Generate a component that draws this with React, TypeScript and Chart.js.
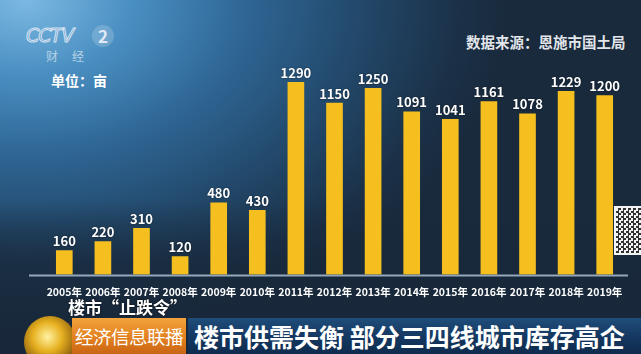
import React, { useEffect, useRef } from "react";
import { Chart, registerables } from "chart.js";

Chart.register(...registerables);

const years = ["2005年", "2006年", "2007年", "2008年", "2009年", "2010年", "2011年", "2012年", "2013年", "2014年", "2015年", "2016年", "2017年", "2018年", "2019年"];
const values = [160, 220, 310, 120, 480, 430, 1290, 1150, 1250, 1091, 1041, 1161, 1078, 1229, 1200];

const FONT = '"Noto Sans CJK SC", "Noto Sans", sans-serif';

const valueLabelPlugin = {
  id: "valueLabels",
  afterDatasetsDraw(chart: any) {
    const ctx = chart.ctx;
    const meta = chart.getDatasetMeta(0);
    ctx.save();
    ctx.font = "bold 13px " + FONT;
    ctx.fillStyle = "#ffffff";
    ctx.textAlign = "center";
    ctx.textBaseline = "bottom";
    ctx.shadowColor = "rgba(0,0,0,0.5)";
    ctx.shadowBlur = 2;
    meta.data.forEach((bar: any, i: number) => {
      ctx.fillText(String(chart.data.datasets[0].data[i]), bar.x, bar.y - 3);
    });
    ctx.restore();
  },
  beforeDatasetsDraw(chart: any) {
    const ctx = chart.ctx;
    const a = chart.chartArea;
    ctx.save();
    ctx.strokeStyle = "rgba(170,190,210,0.85)";
    ctx.lineWidth = 2;
    ctx.beginPath();
    ctx.moveTo(a.left - 16, a.bottom + 1);
    ctx.lineTo(a.right + 4, a.bottom + 1);
    ctx.stroke();
    ctx.restore();
  },
};

export default function App() {
  const ref = useRef<HTMLCanvasElement>(null);
  useEffect(() => {
    if (!ref.current) return;
    const chart = new Chart(ref.current, {
      type: "bar",
      data: {
        labels: years,
        datasets: [
          {
            data: values,
            backgroundColor: "#F5C01F",
            barThickness: 16,
          },
        ],
      },
      options: {
        animation: false,
        responsive: false,
        maintainAspectRatio: false,
        layout: { padding: { left: 45, right: 17, top: 51, bottom: 0 } },
        plugins: { legend: { display: false }, tooltip: { enabled: false } },
        scales: {
          x: {
            grid: { display: false },
            border: { display: false },
            ticks: {
              color: "#ffffff",
              font: { family: FONT, size: 10.5, weight: "bold" },
              padding: 3,
              maxRotation: 0,
              autoSkip: false,
            },
          },
          y: { display: false, min: 0, max: 1500 },
        },
      },
      plugins: [valueLabelPlugin],
    });
    return () => chart.destroy();
  }, []);

  return (
    <div
      style={{
        position: "absolute",
        left: 0,
        top: 0,
        width: 641,
        height: 354,
        overflow: "hidden",
        fontFamily: FONT,
        background:
          "radial-gradient(ellipse 75% 95% at 4% 0%, #7cb9e2 0%, #4a8fc2 22%, #2f6796 45%, #234a6d 68%, #1b3148 90%, #192a3d 100%)",
      }}
    >
      <div style={{ position: "absolute", left: 0, top: 200, width: 641, height: 154, background: "linear-gradient(to bottom, rgba(24,40,58,0) 0%, rgba(24,40,58,0.7) 40%, rgba(24,40,58,0.9) 100%)" }} />
      {/* CCTV logo */}
      <div style={{ position: "absolute", left: 26, top: 24, fontFamily: '"DejaVu Sans", sans-serif', fontSize: 19, fontStyle: "italic", letterSpacing: -1, WebkitTextStroke: "1px rgba(230,235,245,0.9)" } as any}>
        <span style={{ color: "transparent" }}>CCTV</span>
      </div>
      <div style={{ position: "absolute", left: 92, top: 25, width: 22, height: 22, borderRadius: 11, background: "rgba(255,255,255,0.18)", color: "rgba(240,244,250,0.9)", fontWeight: "bold", fontSize: 17, lineHeight: "22px", textAlign: "center" }}>2</div>
      <div style={{ position: "absolute", left: 46, top: 47, color: "rgba(220,230,240,0.75)", fontSize: 12, letterSpacing: 14 }}>财经</div>
      <div style={{ position: "absolute", left: 51, top: 70, color: "#ffffff", fontSize: 14, fontWeight: "bold" }}>单位：亩</div>
      <div style={{ position: "absolute", left: 466, top: 31, color: "rgba(240,242,245,0.95)", fontSize: 14.5, fontWeight: "bold" }}>数据来源：恩施市国土局</div>
      <canvas ref={ref} width={641} height={301} style={{ position: "absolute", left: 0, top: 0, width: 641, height: 301 }} />
      {/* QR code */}
      <div style={{ position: "absolute", left: 614, top: 206, width: 27, height: 45, background: "repeating-conic-gradient(#333 0% 25%, #f4f4f4 0% 50%) 0 0 / 5px 5px", border: "2px solid #f4f4f4" }} />
      {/* bottom banner */}
      <div style={{ position: "absolute", left: 68, top: 294, color: "#ffffff", fontSize: 17, fontWeight: "bold", textShadow: "0 0 2px #000" }}>楼市“止跌令”</div>
      <div style={{ position: "absolute", left: 24, top: 316, width: 52, height: 52, borderRadius: 26, background: "radial-gradient(circle at 45% 40%, #fff2a0 0%, #e6b020 35%, #9a6a10 65%, #2a3a50 100%)" }} />
      <div style={{ position: "absolute", left: 72, top: 318, width: 114, height: 36, background: "linear-gradient(to bottom, #f3a33c 0%, #e07d1c 60%, #c96515 100%)", color: "#ffffff", fontSize: 18.5, lineHeight: "36px", textAlign: "center", letterSpacing: -0.5 }}>经济信息联播</div>
      <div style={{ position: "absolute", left: 188, top: 318, width: 453, height: 36, background: "linear-gradient(to bottom, #1f4d7a 0%, #143760 55%, #0f2b4d 100%)", color: "#ffffff", fontSize: 25, fontWeight: "bold", lineHeight: "36px", paddingLeft: 6, whiteSpace: "nowrap" }}>楼市供需失衡 部分三四线城市库存高企</div>
    </div>
  );
}
